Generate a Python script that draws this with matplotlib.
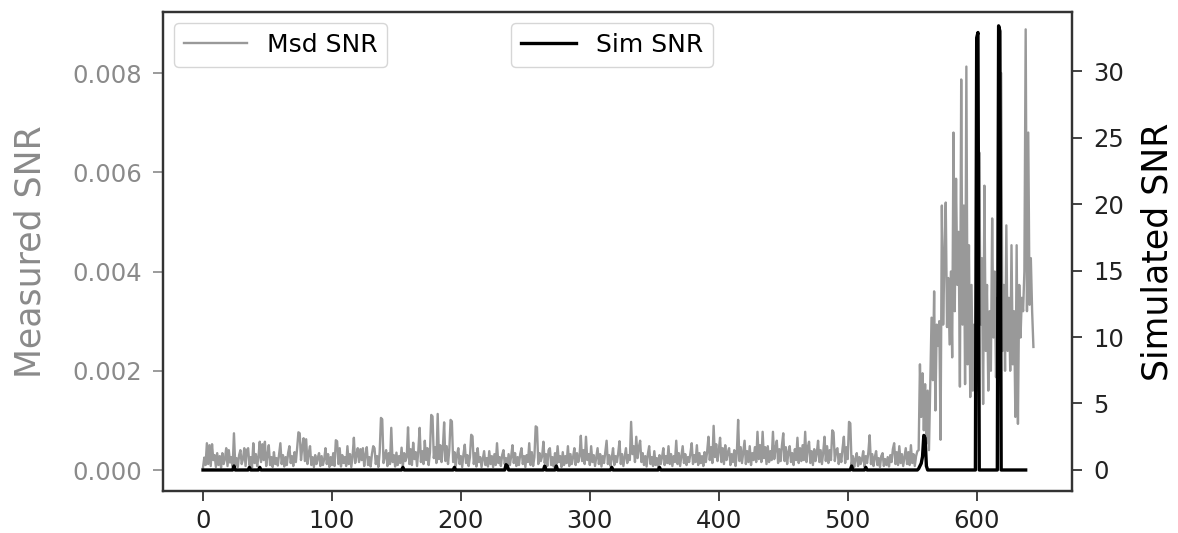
import numpy as np
import matplotlib
matplotlib.use("Agg")
import matplotlib.pyplot as plt

# Measured SNR, in units of 1e-4, one value per sample index (0..644)
msd_snr_x1e4 = [
    0.5, 2.5, 1.0, 5.4, 1.2, 5.0, 0.8, 5.2, 2.0, 3.0,
    0.6, 3.4, 1.0, 2.8, 0.5, 3.4, 1.2, 2.2, 4.4, 0.8,
    4.0, 1.5, 2.6, 0.7, 7.4, 1.0, 2.4, 0.6, 3.0, 4.0,
    1.2, 2.2, 4.4, 0.8, 4.0, 4.4, 1.0, 2.6, 0.5, 5.4,
    1.4, 3.2, 0.8, 2.6, 5.7, 1.6, 5.2, 2.0, 5.7, 0.8,
    3.0, 5.0, 1.0, 2.6, 0.6, 3.6, 1.2, 2.4, 0.9, 3.2,
    5.4, 1.2, 3.0, 0.7, 2.6, 1.0, 3.4, 4.8, 1.4, 2.8,
    0.8, 3.6, 1.6, 4.4, 7.6, 7.4, 2.0, 4.6, 6.4, 1.8,
    6.2, 1.2, 3.4, 4.8, 1.0, 2.6, 0.6, 3.0, 1.2, 2.4,
    3.4, 0.8, 2.8, 1.0, 2.2, 4.4, 1.2, 3.2, 0.6, 2.6,
    1.0, 3.4, 0.8, 6.0, 5.8, 1.2, 4.4, 0.7, 3.0, 1.4,
    2.6, 0.8, 4.8, 1.2, 3.2, 0.6, 2.8, 6.5, 1.4, 3.0,
    4.4, 1.6, 4.2, 2.0, 4.4, 0.8, 3.0, 4.6, 1.0, 2.6,
    0.7, 3.2, 4.8, 4.4, 1.2, 2.8, 0.6, 3.6, 10.5, 10.2,
    1.4, 2.8, 4.0, 0.8, 3.4, 1.2, 8.5, 1.6, 3.0, 0.7,
    3.5, 1.0, 2.8, 1.4, 4.5, 0.8, 3.4, 1.8, 2.6, 8.6,
    1.2, 4.2, 1.0, 5.5, 2.2, 3.6, 0.8, 4.0, 8.5, 1.6,
    3.8, 1.2, 5.9, 2.0, 4.4, 1.0, 3.6, 11.1, 10.8, 2.4,
    4.6, 1.4, 11.3, 2.2, 5.0, 1.6, 4.4, 9.6, 1.8, 4.8,
    1.2, 4.0, 10.1, 9.8, 1.6, 3.6, 0.8, 3.0, 4.4, 1.2,
    2.8, 0.6, 3.2, 5.1, 1.4, 3.0, 0.8, 2.6, 7.1, 6.8,
    1.2, 3.4, 0.7, 4.4, 1.6, 2.6, 0.6, 2.2, 3.8, 1.0,
    2.4, 0.7, 3.8, 1.2, 2.8, 0.6, 3.2, 1.0, 5.4, 1.4,
    2.6, 0.8, 3.0, 4.0, 1.2, 2.4, 0.6, 3.2, 1.0, 2.8,
    5.0, 1.4, 3.4, 0.8, 2.6, 1.0, 3.2, 4.4, 1.2, 2.8,
    0.6, 3.0, 1.6, 5.4, 1.0, 3.6, 0.8, 2.6, 8.8, 8.6,
    1.2, 3.4, 1.8, 2.8, 5.7, 1.4, 3.2, 0.8, 4.0, 4.4,
    1.0, 2.6, 0.7, 3.4, 1.2, 4.8, 1.6, 2.8, 0.6, 3.6,
    1.0, 2.8, 1.4, 4.8, 0.8, 3.2, 1.2, 2.6, 4.4, 1.0,
    3.4, 1.6, 2.8, 6.9, 1.8, 4.0, 1.2, 6.7, 2.0, 3.2,
    1.0, 4.8, 1.6, 3.0, 0.8, 2.6, 4.4, 1.2, 3.2, 0.7,
    2.8, 1.4, 3.6, 5.9, 1.2, 3.0, 0.8, 2.4, 4.4, 1.0,
    2.8, 1.6, 3.4, 5.8, 1.2, 3.2, 0.8, 2.6, 4.4, 1.4,
    3.0, 2.0, 9.7, 3.2, 4.8, 1.6, 6.7, 2.4, 4.6, 5.9,
    1.6, 3.4, 1.0, 2.8, 0.7, 3.2, 4.8, 1.2, 2.6, 0.8,
    3.8, 1.0, 2.4, 0.6, 3.0, 1.2, 2.6, 4.4, 1.0, 2.8,
    1.4, 4.8, 1.2, 3.2, 0.8, 2.8, 1.6, 5.9, 1.2, 3.4,
    0.8, 2.8, 4.8, 1.4, 3.2, 1.0, 2.6, 1.6, 3.4, 5.4,
    1.2, 3.0, 1.6, 5.0, 1.0, 3.4, 1.4, 2.8, 0.8, 3.6,
    1.6, 3.8, 6.7, 2.0, 4.6, 1.4, 8.9, 2.6, 5.2, 1.8,
    4.0, 6.5, 1.6, 4.4, 1.2, 5.0, 2.0, 3.6, 4.4, 1.0,
    3.2, 1.6, 4.0, 0.8, 3.4, 10.1, 1.8, 4.6, 1.4, 3.6,
    5.9, 1.2, 3.8, 1.6, 4.8, 1.0, 3.4, 2.0, 4.6, 1.6,
    7.7, 2.2, 5.0, 1.6, 7.7, 2.4, 4.6, 1.2, 4.8, 1.6,
    3.8, 2.0, 7.7, 2.2, 4.4, 5.9, 1.4, 4.2, 1.8, 5.0,
    7.4, 1.8, 4.6, 1.2, 3.6, 4.8, 1.6, 3.4, 1.0, 4.2,
    2.0, 6.5, 1.4, 4.4, 1.8, 5.0, 2.0, 7.7, 1.6, 4.6,
    5.7, 1.4, 3.8, 1.0, 4.2, 1.8, 3.4, 5.9, 1.6, 4.0,
    1.2, 3.6, 6.7, 1.8, 4.8, 1.4, 4.0, 2.0, 8.0, 7.6,
    1.8, 4.0, 4.4, 1.2, 3.2, 1.6, 4.4, 6.7, 1.4, 4.6,
    2.2, 9.7, 9.4, 1.0, 2.8, 0.6, 2.2, 3.4, 0.8, 2.6,
    1.2, 2.0, 3.8, 0.7, 2.8, 1.4, 3.6, 7.0, 1.2, 3.2,
    0.8, 2.6, 3.8, 1.0, 2.4, 0.6, 2.8, 3.4, 0.8, 2.2,
    1.0, 2.6, 0.7, 3.0, 1.6, 4.2, 5.4, 1.2, 3.6, 1.0,
    4.8, 1.4, 3.2, 0.8, 2.6, 4.4, 1.2, 3.6, 1.0, 5.0,
    1.4, 3.2, 0.8, 2.8, 3.8, 4.0, 21.3, 10.7, 19.5, 8.0,
    17.3, 5.3, 16.0, 4.0, 17.3, 30.7, 18.1, 36.0, 12.0, 29.3,
    25.0, 30.0, 6.1, 53.3, 29.3, 42.7, 53.9, 28.8, 38.7, 25.3,
    40.0, 22.7, 68.0, 32.0, 58.7, 37.3, 48.0, 16.8, 78.7, 29.3,
    53.3, 17.3, 81.3, 21.3, 45.3, 14.7, 37.3, 16.0, 29.3, 13.9,
    32.0, 16.0, 64.0, 29.3, 42.7, 13.3, 57.3, 24.0, 37.3, 16.0,
    32.0, 20.0, 50.7, 26.7, 40.0, 18.7, 34.7, 21.3, 32.0, 80.0,
    24.0, 37.3, 20.0, 49.3, 24.0, 34.7, 20.0, 45.3, 21.3, 32.0,
    10.7, 45.3, 9.3, 37.3, 26.7, 34.7, 32.0, 40.0, 88.8, 32.0,
    68.0, 33.3, 42.7, 32.0, 24.8,
]

# Simulated SNR: zero baseline for samples 0..638, with these non-zero samples
sim_len = 639
sim_idx = [24, 36, 44, 155, 195, 235, 236, 265, 274, 317, 354, 503, 514,
           555, 556, 557, 558, 559, 560, 561,
           600, 601, 617, 618]
sim_val = [0.3, 0.2, 0.2, 0.2, 0.2, 0.4, 0.3, 0.3, 0.3, 0.2, 0.2, 0.3, 0.2,
           0.1, 0.3, 0.5, 1.0, 2.6, 2.4, 0.3,
           32.5, 32.9, 33.4, 33.0]

x_ticks = [0, 100, 200, 300, 400, 500, 600]
left_ticks = [0.000, 0.002, 0.004, 0.006, 0.008]
right_ticks = [0, 5, 10, 15, 20, 25, 30]

msd = np.array(msd_snr_x1e4) * 1e-4
x_msd = np.arange(len(msd))
sim = np.zeros(sim_len)
sim[sim_idx] = sim_val
x_sim = np.arange(sim_len)

plt.rcParams['font.family'] = ['DejaVu Sans']
fig = plt.figure(figsize=(11.78, 5.33), dpi=100)
ax = fig.add_axes([0.1384, 0.0788, 0.7717, 0.8987])
ax2 = ax.twinx()

l1, = ax.plot(x_msd, msd, color='#999999', lw=1.7, label='Msd SNR')
l2, = ax2.plot(x_sim, sim, color='black', lw=2.4, label='Sim SNR')

ax.set_xlim(-31, 674)
ax.set_ylim(-0.000423, 0.00923)
ax2.set_ylim(-1.58, 34.44)

ax.set_xticks(x_ticks)
ax.set_yticks(left_ticks)
ax2.set_yticks(right_ticks)
ax.set_yticklabels([f"{v:.3f}" for v in left_ticks])

ax.tick_params(axis='x', labelsize=17.5, length=7, width=1.2, pad=6, colors='#222222')
ax.tick_params(axis='y', labelsize=17.5, length=7, width=1.2, pad=8, colors='#8a8a8a')
ax2.tick_params(axis='y', labelsize=17.5, length=7, width=1.2, pad=8, colors='#222222')

for a in (ax, ax2):
    for s in a.spines.values():
        s.set_linewidth(1.6)
        s.set_color('#333333')

ax.set_ylabel('Measured SNR', fontsize=25, color='#8a8a8a', labelpad=18)
ax2.set_ylabel('Simulated SNR', fontsize=25, color='black', labelpad=12)

ax.legend(handles=[l1], loc='upper left', fontsize=18, handlelength=2.5,
          borderaxespad=0.45)
ax2.legend(handles=[l2], loc='upper left', bbox_to_anchor=(0.37, 1.0),
           fontsize=18, handlelength=2.2, borderaxespad=0.45)

fig.savefig('out.png', dpi=100)
